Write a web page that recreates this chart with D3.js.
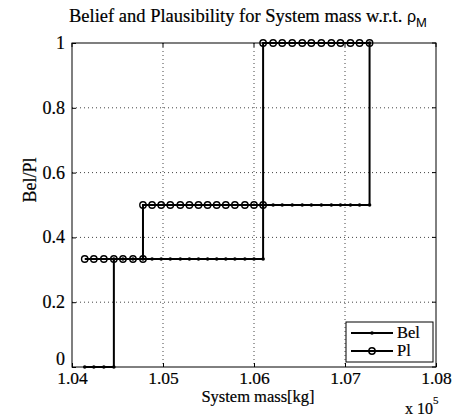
<!DOCTYPE html>
<html>
<head>
<meta charset="utf-8">
<script src="https://cdn.jsdelivr.net/npm/d3@7"></script>
<style>
  html, body { margin: 0; padding: 0; background: #fff; }
  svg { display: block; }
  text { font-family: "Liberation Serif", "Times New Roman", serif; fill: #000; stroke: #000; stroke-width: 0.2px; }
</style>
</head>
<body>
<svg id="chart" width="455" height="418"></svg>
<script>
// Belief (Bel) and Plausibility (Pl) step curves for the system mass (x 10^5 kg)
const belMass = [1.0414, 1.0424, 1.0435, 1.0446,
  1.0446, 1.0456, 1.0467, 1.0478, 1.0488, 1.0498, 1.0508, 1.0519, 1.0529, 1.0539,
  1.0549, 1.0559, 1.0569, 1.0579, 1.0590, 1.0600, 1.0610,
  1.0610, 1.0621, 1.0631, 1.0642, 1.0653, 1.0663, 1.0674, 1.0685, 1.0695, 1.0706,
  1.0716, 1.0727, 1.0727];
const belValue = [0, 0, 0, 0,
  0.3333, 0.3333, 0.3333, 0.3333, 0.3333, 0.3333, 0.3333, 0.3333, 0.3333, 0.3333,
  0.3333, 0.3333, 0.3333, 0.3333, 0.3333, 0.3333, 0.3333,
  0.5, 0.5, 0.5, 0.5, 0.5, 0.5, 0.5, 0.5, 0.5, 0.5,
  0.5, 0.5, 1];

const plMass = [1.0414, 1.0424, 1.0435, 1.0446, 1.0456, 1.0467, 1.0478,
  1.0478, 1.0488, 1.0498, 1.0508, 1.0519, 1.0529, 1.0539, 1.0549, 1.0559, 1.0569,
  1.0579, 1.0590, 1.0600, 1.0610,
  1.0610, 1.0621, 1.0631, 1.0642, 1.0653, 1.0663, 1.0674, 1.0685, 1.0695, 1.0706,
  1.0716, 1.0727];
const plValue = [0.3333, 0.3333, 0.3333, 0.3333, 0.3333, 0.3333, 0.3333,
  0.5, 0.5, 0.5, 0.5, 0.5, 0.5, 0.5, 0.5, 0.5, 0.5,
  0.5, 0.5, 0.5, 0.5,
  1, 1, 1, 1, 1, 1, 1, 1, 1, 1,
  1, 1];

const xTicks = [1.04, 1.05, 1.06, 1.07, 1.08];
const xTickLabels = ["1.04", "1.05", "1.06", "1.07", "1.08"];
const yTicks = [0, 0.2, 0.4, 0.6, 0.8, 1];
const yTickLabels = ["0", "0.2", "0.4", "0.6", "0.8", "1"];
const legendLabels = ["Bel", "Pl"];

const svg = d3.select("#chart");
const m = { left: 72, right: 436, top: 43, bottom: 367 };
const fs = 18;

const x = d3.scaleLinear().domain([1.04, 1.08]).range([m.left, m.right]);
const y = d3.scaleLinear().domain([0, 1]).range([m.bottom, m.top]);

// dotted grid
const grid = svg.append("g");
grid.selectAll("line.gx").data(xTicks.slice(1, -1)).join("line")
  .attr("x1", d => x(d)).attr("x2", d => x(d))
  .attr("y1", m.top).attr("y2", m.bottom)
  .attr("stroke", "#444").attr("stroke-width", 1).attr("stroke-dasharray", "1,3");
grid.selectAll("line.gy").data(yTicks.slice(1, -1)).join("line")
  .attr("y1", d => y(d)).attr("y2", d => y(d))
  .attr("x1", m.left).attr("x2", m.right)
  .attr("stroke", "#444").attr("stroke-width", 1).attr("stroke-dasharray", "1,3");

// axes with inward ticks
const xAxis = d3.axisBottom(x).tickValues(xTicks).tickSize(-4)
  .tickFormat((d, i) => xTickLabels[i]);
const yAxis = d3.axisLeft(y).tickValues(yTicks).tickSize(-4)
  .tickFormat((d, i) => yTickLabels[i]);

const gx = svg.append("g").attr("transform", `translate(0,${m.bottom})`).call(xAxis);
gx.select(".domain").remove();
gx.selectAll("line").attr("stroke", "#000");
gx.selectAll("text").attr("font-size", 17.5).attr("dy", 0).attr("y", 17);

const gy = svg.append("g").attr("transform", `translate(${m.left},0)`).call(yAxis);
gy.select(".domain").remove();
gy.selectAll("line").attr("stroke", "#000");
gy.selectAll("text").attr("font-size", fs).attr("x", -7).attr("dy", "0.3em");
gy.selectAll(".tick").filter(d => d === 0).select("text").attr("dy", "-0.12em");

// top/right ticks
svg.append("g").selectAll("line").data(xTicks).join("line")
  .attr("x1", d => x(d)).attr("x2", d => x(d))
  .attr("y1", m.top).attr("y2", m.top + 4).attr("stroke", "#000");
svg.append("g").selectAll("line").data(yTicks).join("line")
  .attr("y1", d => y(d)).attr("y2", d => y(d))
  .attr("x1", m.right).attr("x2", m.right - 4).attr("stroke", "#000");

// plot box
svg.append("rect").attr("x", m.left).attr("y", m.top)
  .attr("width", m.right - m.left).attr("height", m.bottom - m.top)
  .attr("fill", "none").attr("stroke", "#000").attr("stroke-width", 1);

const line = d3.line().x(d => x(d[0])).y(d => y(d[1]));
const belPts = belMass.map((v, i) => [v, belValue[i]]);
const plPts = plMass.map((v, i) => [v, plValue[i]]);

// Pl series: line with open circles
svg.append("path").datum(plPts).attr("d", line)
  .attr("fill", "none").attr("stroke", "#000").attr("stroke-width", 2);
svg.append("g").selectAll("circle").data(plPts).join("circle")
  .attr("cx", d => x(d[0])).attr("cy", d => y(d[1])).attr("r", 3.2)
  .attr("fill", "none").attr("stroke", "#000").attr("stroke-width", 1.4);

// Bel series: line with point markers
svg.append("path").datum(belPts).attr("d", line)
  .attr("fill", "none").attr("stroke", "#000").attr("stroke-width", 2);
svg.append("g").selectAll("circle").data(belPts).join("circle")
  .attr("cx", d => x(d[0])).attr("cy", d => y(d[1])).attr("r", 1.8)
  .attr("fill", "#000");

// legend
const lg = svg.append("g");
lg.append("rect").attr("x", 346).attr("y", 322).attr("width", 87).attr("height", 40)
  .attr("fill", "#fff").attr("stroke", "#000").attr("stroke-width", 1);
const legendY = [333, 351];
legendLabels.forEach((lab, i) => {
  const ly = legendY[i];
  lg.append("line").attr("x1", 351).attr("x2", 393).attr("y1", ly).attr("y2", ly)
    .attr("stroke", "#000").attr("stroke-width", 2);
  if (i === 0) {
    lg.append("circle").attr("cx", 372).attr("cy", ly).attr("r", 1.8).attr("fill", "#000");
  } else {
    lg.append("circle").attr("cx", 372).attr("cy", ly).attr("r", 3.2)
      .attr("fill", "none").attr("stroke", "#000").attr("stroke-width", 1.4);
  }
  lg.append("text").attr("x", 397).attr("y", ly).attr("dy", "0.33em")
    .attr("font-size", 16.5).text(lab);
});

// title
const title = svg.append("text").attr("x", 69).attr("y", 22)
  .attr("text-anchor", "start").attr("font-size", 18.5);
title.append("tspan").text("Belief and Plausibility for System mass w.r.t. ");
title.append("tspan").text("\u03C1").attr("font-family", "Liberation Sans, sans-serif")
  .attr("font-size", 16).style("stroke-width", "0");
title.append("tspan").text("M").attr("font-size", 13).attr("dy", 5)
  .attr("font-family", "Liberation Sans, sans-serif").style("stroke-width", "0");

// axis labels
svg.append("text").attr("x", 258).attr("y", 402).attr("text-anchor", "middle")
  .attr("font-size", 16.5).text("System mass[kg]");
svg.append("text").attr("transform", "translate(36,180) rotate(-90)")
  .attr("text-anchor", "middle").attr("font-size", fs).text("Bel/Pl");

// axis exponent
const ex = svg.append("text").attr("x", 405).attr("y", 414).attr("font-size", 16);
ex.append("tspan").text("x 10");
ex.append("tspan").text("5").attr("font-size", 11).attr("dy", -10);
</script>
</body>
</html>
